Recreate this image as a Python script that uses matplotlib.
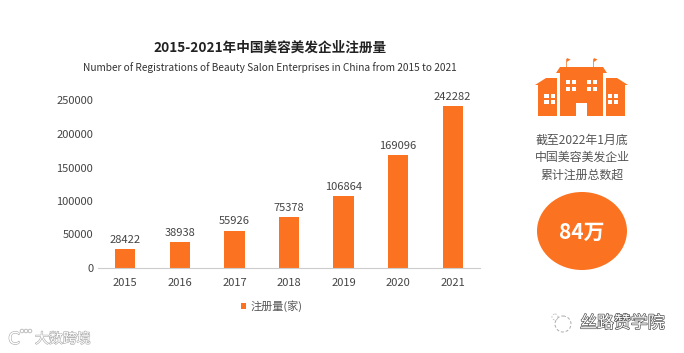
import matplotlib
matplotlib.use('Agg')
import matplotlib.pyplot as plt
import matplotlib.patheffects as pe
from matplotlib.patches import Rectangle, Polygon, Circle, Ellipse

plt.rcParams['font.family'] = ['Noto Sans CJK SC', 'DejaVu Sans']

years = ['2015', '2016', '2017', '2018', '2019', '2020', '2021']
counts = [28422, 38938, 55926, 75378, 106864, 169096, 242282]
yticks = [0, 50000, 100000, 150000, 200000, 250000]

title = '2015-2021年中国美容美发企业注册量'
subtitle = 'Number of Registrations of Beauty Salon Enterprises in China from 2015 to 2021'
side_lines = ['截至2022年1月底', '中国美容美发企业', '累计注册总数超']
side_value = '84万'
legend_label = '注册量(家)'

orange = '#fb7320'
grey = '#555555'
W, H = 684, 353

fig = plt.figure(figsize=(W / 100, H / 100), dpi=100, facecolor='white')

# bar chart, placed by pixels
ax = fig.add_axes([98 / W, 1 - 268 / H, 382 / W, 167.5 / H])
bars = ax.bar(years, counts, width=0.37, color=orange)
ax.set_xlim(-0.5, 6.5)
ax.set_ylim(0, 250000)
ax.set_yticks(yticks)
ax.tick_params(axis='y', length=0, labelsize=8, labelcolor='#444444', pad=3.5)
ax.tick_params(axis='x', length=0, labelsize=8, labelcolor='#444444', pad=7)
for s in ['top', 'right', 'left']:
	ax.spines[s].set_visible(False)
ax.spines['bottom'].set_color('#cccccc')
ax.spines['bottom'].set_linewidth(0.8)
for b, c in zip(bars, counts):
	ax.annotate(str(c), (b.get_x() + b.get_width() / 2, c), xytext=(0, 3),
		textcoords='offset points', ha='center', va='bottom', fontsize=8, color='#444444')

# overlay in pixel coordinates for the texts and the icon
ov = fig.add_axes([0, 0, 1, 1], facecolor='none')
ov.set_xlim(0, W)
ov.set_ylim(H, 0)
ov.axis('off')

ov.text(270, 47.5, title, ha='center', va='center', fontsize=9.8, fontweight='bold', color='#222222')
ov.text(270, 68, subtitle, ha='center', va='center', fontsize=7.3, color='#333333')

# legend
ov.add_patch(Rectangle((240.5, 302.5), 5.5, 6, color=orange, lw=0))
ov.text(251, 306, legend_label, ha='left', va='center', fontsize=8, color=grey)

# building icon
def box(x0, y0, x1, y1, c=orange):
	ov.add_patch(Rectangle((x0, y0), x1 - x0, y1 - y0, color=c, lw=0))

ov.add_patch(Polygon([(535, 85), (546, 78), (557, 78), (557, 85)], color=orange, lw=0))
ov.add_patch(Polygon([(606, 78), (617, 78), (628, 85), (606, 85)], color=orange, lw=0))
box(538, 85, 557, 116)
box(606, 85, 625, 116)
ov.add_patch(Polygon([(556, 73), (560, 67), (603, 67), (607, 73)], color=orange, lw=0))
box(560, 73, 603, 116)
box(576, 103, 587, 116, 'white')
# flags
for fx in [566, 593]:
	box(fx, 59, fx + 0.8, 67, '#f29a66')
	ov.add_patch(Polygon([(fx + 0.8, 58), (fx + 4.5, 59.5), (fx + 0.8, 62)], color=orange, lw=0))
# windows
for wx in [565.7, 572, 586.7, 593]:
	for wy in [80, 87]:
		box(wx, wy, wx + 4.4, wy + 4, 'white')
for wx in [544.3, 550.7, 608, 614]:
	for wy in [94, 100]:
		box(wx, wy, wx + 4.2, wy + 4, 'white')

for i, line in enumerate(side_lines):
	ov.text(582, 140 + i * 17.5, line, ha='center', va='center', fontsize=8.6, color=grey)

ov.add_patch(Ellipse((582, 231), 90, 78, color=orange, lw=0))
ov.text(582, 232, side_value, ha='center', va='center', fontsize=15, color='white', fontweight='bold')

# watermarks
halo = [pe.withStroke(linewidth=0.8, foreground='#a8a8a8')]
ov.text(35, 339, '大数跨境', ha='left', va='center', fontsize=10, color='white', path_effects=halo)
ov.text(14, 339, 'C', ha='center', va='center', fontsize=12, color='white', path_effects=halo, family=['DejaVu Sans'])
for cx in [22, 26, 30]:
	ov.add_patch(Circle((cx, 331), 1.8, fill=False, ec='#b5b5b5', lw=0.6))
ov.text(580, 323, '丝路赞学院', ha='left', va='center', fontsize=12.2, color='white', path_effects=[pe.withStroke(linewidth=1, foreground='#555555')])
ov.add_patch(Circle((563, 324), 8, fill=False, ec='#aaaaaa', lw=0.7, ls=(0, (3, 2))))
ov.add_patch(Circle((555, 317), 3, fill=False, ec='#bbbbbb', lw=0.6, ls=(0, (2, 2))))

fig.savefig('out.png', dpi=100, facecolor='white')
